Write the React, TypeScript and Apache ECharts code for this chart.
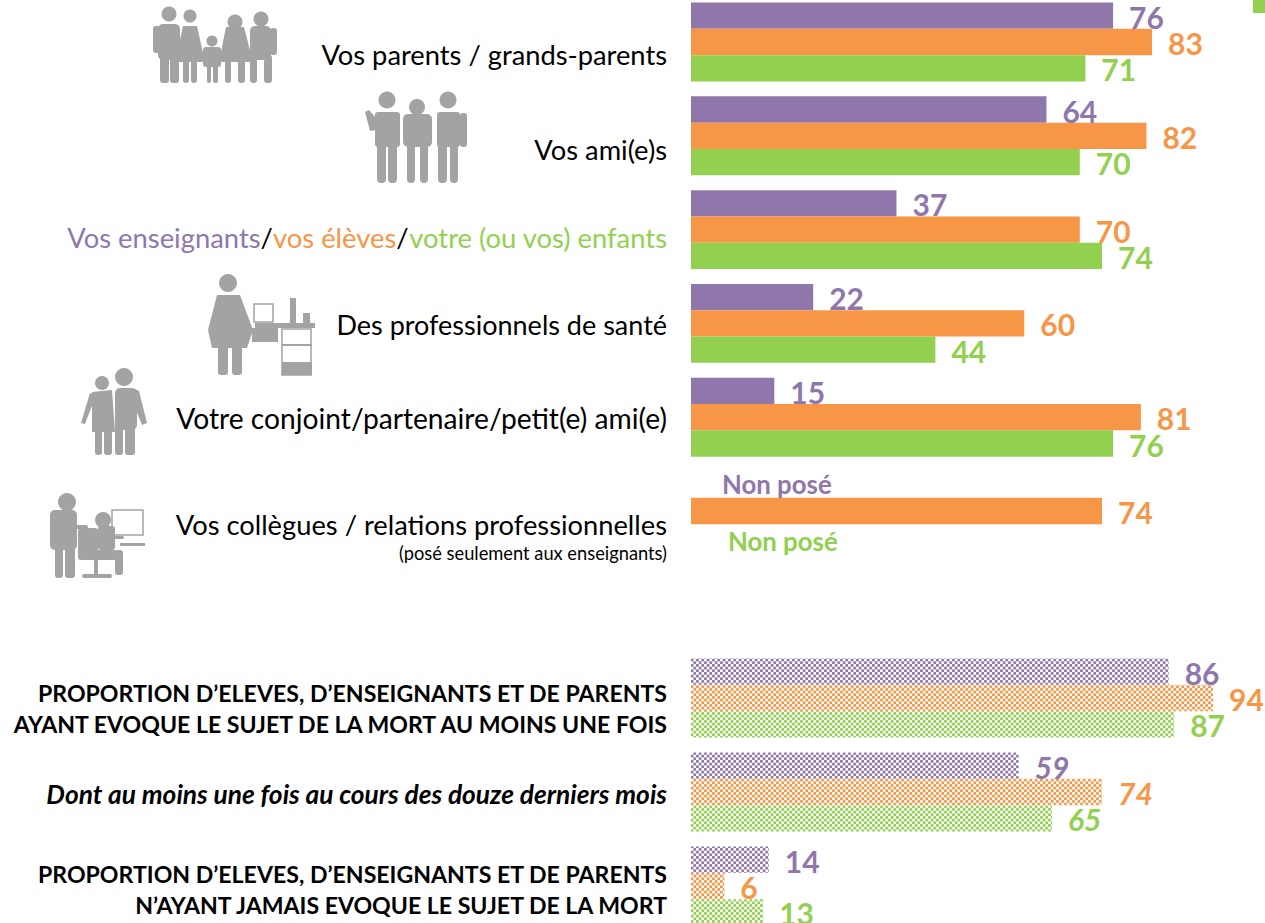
import React, { useEffect, useRef } from "react";
import * as echarts from "echarts";

const PURPLE = "#9077AB";
const ORANGE = "#F79646";
const GREEN = "#92D050";
const GREY = "#A3A3A3";

const topCategories = ["parents", "amis", "enseignants", "sante", "conjoint", "collegues"];
const topEleves = [76, 64, 37, 22, 15, 0];
const topEnseignants = [83, 82, 70, 60, 81, 74];
const topParents = [71, 70, 74, 44, 76, 0];

const bottomCategories = ["evoque", "douze", "jamais"];
const bottomEleves = [86, 59, 14];
const bottomEnseignants = [94, 74, 6];
const bottomParents = [87, 65, 13];

const topLabels: Record<string, string> = {
  parents: "{p26|Vos parents / grands-parents}",
  amis: "{p28|Vos ami(e)s}",
  enseignants: "{u|Vos enseignants}{k|/}{o|vos élèves}{k|/}{g|votre (ou vos) enfants}",
  sante: "{p4|Des professionnels de santé}",
  conjoint: "{c|Votre conjoint/partenaire/petit(e) ami(e)}",
  collegues: "{p55|Vos collègues / relations professionnelles}\n{s|(posé seulement aux enseignants)}",
};
const bottomLabels: Record<string, string> = {
  evoque: "{b20|PROPORTION D’ELEVES, D’ENSEIGNANTS ET DE PARENTS}\n{b20|AYANT EVOQUE LE SUJET DE LA MORT AU MOINS UNE FOIS}",
  douze: "{i|Dont au moins une fois au cours des douze derniers mois}",
  jamais: "{b7|PROPORTION D’ELEVES, D’ENSEIGNANTS ET DE PARENTS}\n{b7|N’AYANT JAMAIS EVOQUE LE SUJET DE LA MORT}",
};

const FONT = "Lato";
const PX = 5.554;
const TXT = 27.3;
const BOLD = 23.1;

const base = { fontFamily: FONT, fontSize: TXT, color: "#000", lineHeight: 29 };
const pad = (n: number) => ({ ...base, padding: [n, 0, 0, 0] });
const boldS = { fontFamily: FONT, fontSize: BOLD, fontWeight: 700 as const, color: "#000", lineHeight: 31 };

const richTop = {
  p26: { ...pad(24) },
  p28: pad(27),
  p4: { ...pad(3), fontSize: 27 },
  c: { ...pad(1), fontSize: 28.2 },
  p55: { ...pad(55), fontSize: 27.3 },
  u: { ...base, color: PURPLE, fontSize: 27.4, padding: [16, 0, 0, 0] },
  k: { ...base, fontSize: 27.4, padding: [16, 0, 0, 0] },
  o: { ...base, color: ORANGE, fontSize: 27.4, padding: [16, 0, 0, 0] },
  g: { ...base, color: GREEN, fontSize: 27.4, padding: [16, 0, 0, 0] },
  s: { fontFamily: FONT, fontSize: 18.3, color: "#000", lineHeight: 29, padding: [55, 0, 0, 0] },
};
const richBottom = {
  b20: { ...boldS, padding: [20, 0, 0, 0] },
  b7: { ...boldS, padding: [7, 0, 0, 0] },
  i: { ...boldS, fontSize: 26.3, fontStyle: "italic" as const, padding: [4, 0, 0, 0] },
};

function checker(color: string) {
  const c = document.createElement("canvas");
  const s = 3;
  c.width = s * 2;
  c.height = s * 2;
  const x = c.getContext("2d")!;
  x.fillStyle = "#fff";
  x.fillRect(0, 0, s * 2, s * 2);
  x.fillStyle = color;
  x.fillRect(0, 0, s, s);
  x.fillRect(s, s, s, s);
  return { image: c, repeat: "repeat", scaleX: 0.889, scaleY: 0.889 };
}

function valueLabel(color: string, fontStyle: "normal" | "italic" = "normal") {
  return {
    show: true,
    position: "right" as const,
    distance: 16,
    offset: [0, 1],
    lineHeight: 26,
    fontFamily: FONT,
    fontSize: 30,
    fontWeight: 700 as const,
    fontStyle,
    color,
    formatter: (p: any) => String(p.value),
  };
}

function topData(values: number[], color: string, distance: number, dy: number) {
  return values.map((v) =>
    v === 0
      ? {
          value: 0,
          label: {
            show: true,
            position: "right" as const,
            distance,
            offset: [0, dy],
            formatter: "Non posé",
            fontFamily: FONT,
            fontSize: 25.8,
            fontWeight: 700 as const,
            color,
          },
        }
      : v,
  );
}

function bottomData(values: number[], color: string) {
  return values.map((v, i) => (i === 1 ? { value: v, label: valueLabel(color, "italic") } : v));
}

function rect(x1: number, y1: number, x2: number, y2: number, r = 3, fill = GREY) {
  return { type: "rect", shape: { x: x1, y: y1, width: x2 - x1, height: y2 - y1, r }, style: { fill } };
}
function head(cx: number, cy: number, r: number) {
  return { type: "circle", shape: { cx, cy, r }, style: { fill: GREY } };
}
function poly(points: number[][]) {
  return { type: "polygon", shape: { points }, style: { fill: GREY } };
}
function frame(x1: number, y1: number, x2: number, y2: number) {
  return {
    type: "rect",
    shape: { x: x1, y: y1, width: x2 - x1, height: y2 - y1 },
    style: { fill: "none", stroke: GREY, lineWidth: 1.5 },
  };
}

const familyIcon = [
  head(169, 14, 7.5), rect(158, 24, 180, 60, 5), rect(153, 26, 160, 53), rect(160, 55, 169, 83), rect(170, 55, 179, 83),
  head(190, 16, 6.5), poly([[183, 26], [197, 26], [205, 62], [175, 62]]), rect(183, 60, 189, 83), rect(191, 60, 197, 83),
  head(212, 41, 5.5), rect(203, 47, 221, 67), rect(207, 62, 211, 83), rect(213, 62, 218, 83),
  head(235, 22, 7.5), poly([[226, 27], [244, 27], [253, 62], [219, 62]]), rect(225, 60, 231, 83), rect(238, 60, 245, 83),
  head(261, 19, 7.5), rect(250, 26, 271, 60, 5), rect(270, 28, 277, 55), rect(250, 55, 257, 83), rect(264, 55, 272, 83),
];
const friendsIcon = [
  head(387, 100, 8.5), rect(375, 112, 400, 147), poly([[365, 112], [369, 110], [376, 118], [376, 130], [370, 131]]), rect(377, 140, 386, 183, 4), rect(388, 140, 397, 183, 4),
  head(417, 107, 8), rect(403, 114, 432, 147, 5), rect(407, 140, 415, 183, 4), rect(420, 140, 428, 183, 4),
  head(448, 100, 8.5), rect(437, 112, 460, 147), rect(460, 113, 467, 147), rect(438, 140, 447, 183, 4), rect(450, 140, 458, 183, 4),
];
const doctorIcon = [
  head(228, 283, 9),
  poly([[217, 295], [240, 295], [253, 330], [247, 348], [212, 348], [208, 330]]),
  rect(218, 345, 228, 375), rect(232, 345, 242, 375),
  frame(254, 304, 273, 322),
  rect(255, 323, 315, 328, 0), rect(252, 328, 278, 342, 0),
  rect(290, 298, 296, 323, 0), rect(303, 313, 310, 323, 0),
  frame(282, 329, 311, 375), rect(282, 362, 312, 375, 0), rect(282, 344, 312, 346, 0),
];
const coupleIcon = [
  head(102, 383, 7), head(124, 377, 9),
  poly([[92, 392], [112, 390], [115, 432], [92, 432]]),
  poly([[90, 393], [96, 395], [85, 424], [81, 423]]),
  rect(95, 430, 102, 455), rect(104, 430, 112, 455),
  rect(115, 388, 137, 430, 5), poly([[135, 389], [139, 391], [147, 423], [142, 425], [134, 405]]),
  rect(115, 425, 123, 455), rect(125, 425, 135, 455),
];
const colleagueIcon = [
  head(67, 502, 9), rect(50, 510, 77, 550, 5), rect(55, 545, 63, 578), rect(65, 545, 75, 578), rect(76, 525, 88, 529),
  rect(78, 528, 98, 557, 3), rect(78, 550, 117, 560, 3), rect(94, 558, 98, 576, 0), rect(82, 574, 112, 578),
  head(103, 520, 8), rect(98, 526, 115, 550), rect(115, 550, 123, 575), rect(112, 536, 124, 539),
  frame(112, 510, 143, 535), rect(120, 543, 145, 546, 0),
];

export default function App() {
  const ref = useRef<HTMLDivElement>(null);
  useEffect(() => {
    document.body.style.margin = "0";
    const chart = echarts.init(ref.current!, undefined, { renderer: "svg" });
    const barBase = { type: "bar" as const, barWidth: 26.3, barGap: "0%" };
    chart.setOption({
      animation: false,
      grid: [
        { left: 691, top: -4.9, width: PX * 100, height: 562.8, outerBoundsMode: "none" },
        { left: 691, top: 651, width: PX * 100, height: 282, outerBoundsMode: "none" },
      ],
      xAxis: [
        { gridIndex: 0, type: "value", min: 0, max: 100, show: false },
        { gridIndex: 1, type: "value", min: 0, max: 100, show: false },
      ],
      yAxis: [
        {
          gridIndex: 0, type: "category", inverse: true, data: topCategories,
          axisLine: { show: false }, axisTick: { show: false },
          axisLabel: { interval: 0, margin: 24, align: "right", formatter: (v: string) => topLabels[v], rich: richTop },
        },
        {
          gridIndex: 1, type: "category", inverse: true, data: bottomCategories,
          axisLine: { show: false }, axisTick: { show: false },
          axisLabel: { interval: 0, margin: 24, align: "right", formatter: (v: string) => bottomLabels[v], rich: richBottom },
        },
      ],
      series: [
        { ...barBase, name: "Élèves", xAxisIndex: 0, yAxisIndex: 0, data: topData(topEleves, PURPLE, 31, -1), itemStyle: { color: PURPLE }, label: valueLabel(PURPLE) },
        { ...barBase, name: "Enseignants", xAxisIndex: 0, yAxisIndex: 0, data: topEnseignants, itemStyle: { color: ORANGE }, label: valueLabel(ORANGE) },
        { ...barBase, name: "Parents", xAxisIndex: 0, yAxisIndex: 0, data: topData(topParents, GREEN, 37, 4), itemStyle: { color: GREEN }, label: valueLabel(GREEN) },
        { ...barBase, name: "Élèves (sujet)", xAxisIndex: 1, yAxisIndex: 1, data: bottomData(bottomEleves, PURPLE), itemStyle: { color: checker(PURPLE) }, label: valueLabel(PURPLE) },
        { ...barBase, name: "Enseignants (sujet)", xAxisIndex: 1, yAxisIndex: 1, data: bottomData(bottomEnseignants, ORANGE), itemStyle: { color: checker(ORANGE) }, label: valueLabel(ORANGE) },
        { ...barBase, name: "Parents (sujet)", xAxisIndex: 1, yAxisIndex: 1, data: bottomData(bottomParents, GREEN), itemStyle: { color: checker(GREEN) }, label: valueLabel(GREEN) },
      ],
      graphic: [
        rect(1253, 0, 1265, 13, 0, GREEN),
        ...familyIcon, ...friendsIcon, ...doctorIcon, ...coupleIcon, ...colleagueIcon,
      ],
    });
    return () => chart.dispose();
  }, []);
  return <div ref={ref} style={{ position: "absolute", left: 0, top: 0, width: 1265, height: 923 }} />;
}
